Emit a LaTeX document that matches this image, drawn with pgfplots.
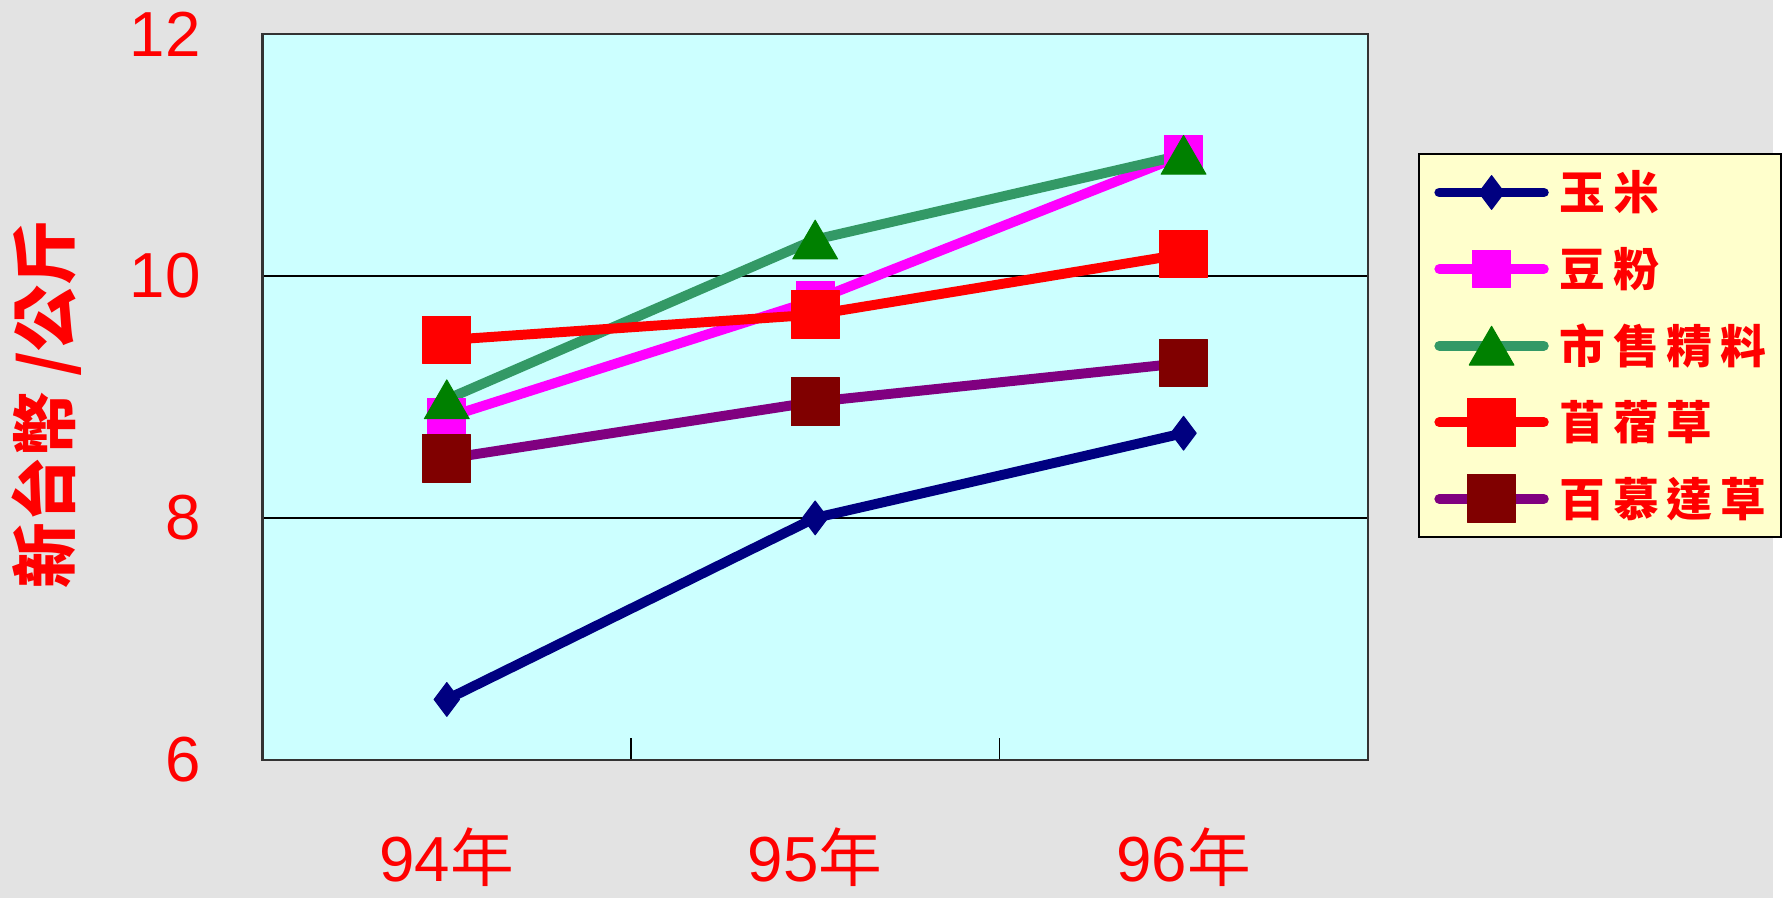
\documentclass[border=0pt]{standalone}
\usepackage{pgfplots}
\pgfplotsset{compat=1.18}
\usepackage{fontspec}
\setmainfont{Liberation Sans}
\newfontfamily\cjk{Noto Sans CJK TC}
\newfontfamily\cjkls{Noto Sans CJK TC}[LetterSpace=17]

\definecolor{bgpage}{HTML}{E3E3E3}
\definecolor{plotbg}{HTML}{CCFFFF}
\definecolor{legbg}{HTML}{FFFFCC}
\definecolor{corn}{HTML}{000080}
\definecolor{soy}{HTML}{FF00FF}
\definecolor{feedline}{HTML}{339966}
\definecolor{feedmark}{HTML}{008000}
\definecolor{alfalfa}{HTML}{FF0000}
\definecolor{bermline}{HTML}{800080}
\definecolor{bermmark}{HTML}{800000}

\begin{document}
\begin{tikzpicture}
\fill[bgpage] (0,0) rectangle (891pt,451.5pt);
\begin{axis}[
  at={(132pt,69.5pt)}, anchor=south west,
  width=555.5pt, height=365pt, scale only axis,
  xmin=0.5, xmax=3.5, ymin=6, ymax=12,
  xtick={1,2,3},
  xticklabels={94{\cjk 年},95{\cjk 年},96{\cjk 年}},
  minor xtick={1.5,2.5},
  ytick={6,8,10,12},
  major tick length=0pt, minor tick length=11pt, tick align=inside,
  xtick pos=bottom, ytick pos=left,
  minor tick style={black, line width=0.8pt},
  ymajorgrids, grid style={black, line width=0.8pt},
  axis background/.style={fill=plotbg},
  axis line style={black!80, line width=1.2pt},
  /pgf/number format/assume math mode=true,
  tick label style={red, font=\fontsize{32}{32}\selectfont, inner sep=0pt},
  xticklabel style={anchor=north, yshift=-34pt},
  yticklabel style={anchor=east, xshift=-31pt},
  ylabel={\cjk\bfseries 新台幣 /公斤},
  every axis y label/.style={at={(axis description cs:-0.1953,0.49)},
    rotate=90, anchor=center, red, font=\fontsize{33}{33}\selectfont},
  legend style={at={(1.0459,0.8356)}, anchor=north west, fill=legbg,
    draw=black, line width=1pt, inner xsep=7.5pt, inner ysep=0pt,
    column sep=5.5pt,
    nodes={inner sep=0pt, text height=28pt, text depth=10.5pt, red,
      font=\fontsize{23}{23}\cjkls\bfseries}},
  legend cell align=left,
  legend image code/.code={
    \draw[mark repeat=2, mark phase=2]
      plot coordinates {(0pt,0pt) (26.25pt,0pt) (52.5pt,0pt)};
  },
  every axis plot/.append style={line width=5pt, line cap=round, line join=round},
]
% values, NT$/kg
\addplot[corn, mark=diamond*, mark size=8.5pt,
  mark options={fill=corn, draw=corn, line width=0.5pt}]
  coordinates {(1,6.5) (2,8.0) (3,8.7)};
\addlegendentry{玉米}
\addplot[soy, mark=square*, mark size=9.5pt,
  mark options={fill=soy, draw=soy, line width=0.5pt}]
  coordinates {(1,8.83) (2,9.8) (3,11.0)};
\addlegendentry{豆粉}
\addplot[feedline, mark=triangle*, mark size=13pt,
  mark options={fill=feedmark, draw=feedmark, line width=0.5pt, yshift=-3.25pt}]
  coordinates {(1,8.98) (2,10.3) (3,11.0)};
\addlegendentry{市售精料}
\addplot[alfalfa, mark=square*, mark size=12pt,
  mark options={fill=alfalfa, draw=alfalfa, line width=0.5pt}]
  coordinates {(1,9.47) (2,9.68) (3,10.18)};
\addlegendentry{苜蓿草}
\addplot[bermline, mark=square*, mark size=12pt,
  mark options={fill=bermmark, draw=bermmark, line width=0.5pt}]
  coordinates {(1,8.49) (2,8.96) (3,9.28)};
\addlegendentry{百慕達草}
\end{axis}
\end{tikzpicture}
\end{document}
